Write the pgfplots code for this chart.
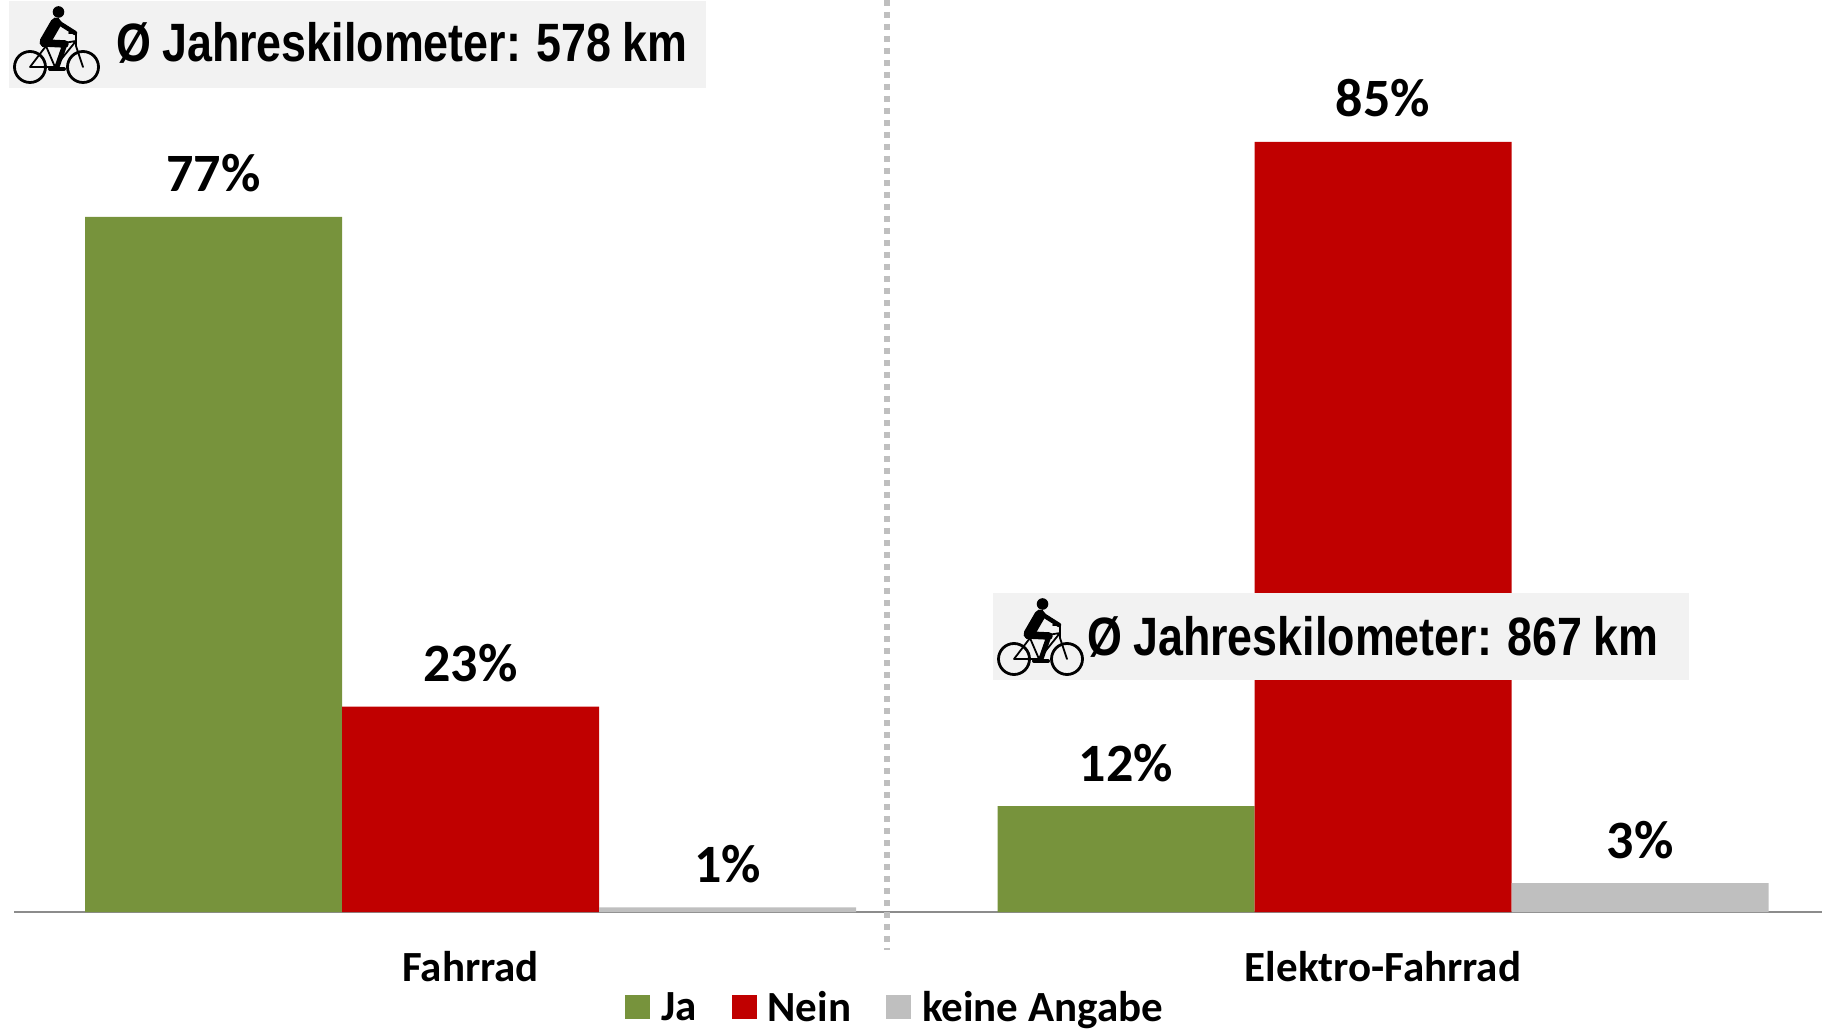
\documentclass[border=0pt]{standalone}
\usepackage{fontspec}
\usepackage{pgfplots}
\pgfplotsset{compat=1.18}
\setmainfont{Carlito}
\newfontfamily\narrowfont[FakeStretch=0.83,WordSpace=0.9]{Liberation Sans}
\definecolor{cgreen}{HTML}{77933C}
\definecolor{cred}{HTML}{C00000}
\definecolor{cgrey}{HTML}{BFBFBF}
\definecolor{cbox}{HTML}{F2F2F2}
\definecolor{caxis}{HTML}{8C8C8C}
\newcommand{\bike}[2]{%
\begin{scope}[shift={(#1pt,#2pt)},x=1pt,y=-1pt,line cap=round,line join=round]
 \draw[line width=2.8pt] (16,61) circle (15.5) (69,61) circle (15.5);
 \draw[line width=1.8pt] (16,61)--(41,61)--(62,35)--(32,40)--(16,61) (41,61)--(32,40) (62,27)--(62,40)--(69,61) (55,27)--(62,27);
 \fill (44.5,6) circle (5.8);
 \draw[line width=11pt] (42,17)--(31,36);
 \draw[line width=4.5pt] (42,15)--(61,27);
 \draw[line width=7.5pt] (30,37)--(51,38);
 \draw[line width=5pt] (51,38)--(43,61);
 \draw[line width=4pt] (36,63)--(50,63);
\end{scope}}
\begin{document}
\begin{tikzpicture}[x=1pt,y=1pt]
\path[use as bounding box] (0,0) rectangle (1822,1029);
\begin{axis}[
 at={(14pt,117pt)},anchor=south west,
 scale only axis,width=1808pt,height=912pt,
 xmin=-0.5004,xmax=1.4811,ymin=0,ymax=100.77,
 clip=false,
 axis y line=none,axis x line=bottom,
 x axis line style={-,draw=caxis,line width=1.8pt},
 xtick={0,1},xticklabels={Fahrrad,Elektro-Fahrrad},
 major tick length=0pt,
 xticklabel style={anchor=base,yshift=-69pt,font=\fontsize{43}{46}\selectfont\bfseries},
 point meta=explicit symbolic,
 nodes near coords,
 every node near coord/.style={anchor=base,yshift=25pt,font=\fontsize{54}{58}\selectfont\bfseries,text=black},
 legend columns=-1,
 legend style={at={(0.4873,-0.1045)},anchor=center,draw=none,fill=none,
  font=\fontsize{43}{46}\selectfont\bfseries,
  /tikz/every odd column/.append style={column sep=9pt},
  /tikz/every even column/.append style={column sep=33pt}},
]
\addplot[ybar,bar width=257pt,bar shift=-257pt,fill=cgreen,draw=none,
 every node near coord/.append style={xshift=-257pt},
 legend image code/.code={\fill[cgreen] (0pt,-12pt) rectangle (25pt,12pt);}]
 coordinates {(0,76.8) [77\%] (1,11.7) [12\%]};
\addplot[ybar,bar width=257pt,bar shift=0pt,fill=cred,draw=none,
 legend image code/.code={\fill[cred] (0pt,-12pt) rectangle (25pt,12pt);}]
 coordinates {(0,22.7) [23\%] (1,85.1) [85\%]};
\addplot[ybar,bar width=257pt,bar shift=257pt,fill=cgrey,draw=none,
 every node near coord/.append style={xshift=257pt},
 legend image code/.code={\fill[cgrey] (0pt,-12pt) rectangle (25pt,12pt);}]
 coordinates {(0,0.5) [1\%] (1,3.2) [3\%]};
\legend{Ja,Nein,keine Angabe}
\end{axis}
\draw[cgrey,line width=5.5pt,dash pattern=on 6pt off 6pt] (887,1029)--(887,79);
\fill[cbox] (9,941) rectangle (706,1028);
\fill[cbox] (993,349) rectangle (1689,436);
\node[anchor=base west,inner sep=0pt,font=\fontsize{54}{58}\selectfont\narrowfont\bfseries] at (116,967) {Ø Jahreskilometer: 578 km};
\node[anchor=base west,inner sep=0pt,font=\fontsize{54}{58}\selectfont\narrowfont\bfseries] at (1087,374) {Ø Jahreskilometer: 867 km};
\bike{14}{1023}
\bike{998}{431}
\end{tikzpicture}
\end{document}
